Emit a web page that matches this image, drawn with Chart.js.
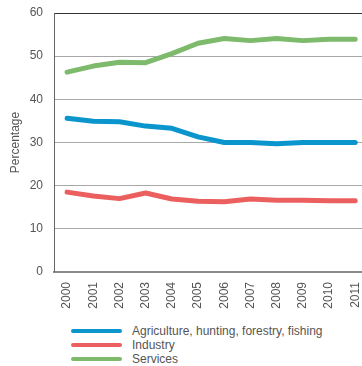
<!DOCTYPE html>
<html>
<head>
<meta charset="utf-8">
<script src="https://cdn.jsdelivr.net/npm/chart.js@4"></script>
<style>
  body { margin: 0; background: #fff; font-family: "Liberation Sans", Arial, sans-serif; }
  #wrap { position: relative; width: 362px; height: 318px; }
  #legend { position: absolute; left: 71px; top: 324px; font-size: 12px; color: #555; }
  .row { height: 14px; line-height: 14px; display: flex; align-items: center; }
  .sw { width: 51px; height: 4px; border-radius: 2px; margin-right: 10px; }
</style>
</head>
<body>
<div id="wrap"><canvas id="chart"></canvas></div>
<div id="legend"></div>
<script>
// share of employment by sector, 2000-2011
const years = ['2000','2001','2002','2003','2004','2005','2006','2007','2008','2009','2010','2011'];
const agriculture = [35.6, 34.9, 34.8, 33.8, 33.3, 31.3, 30.0, 30.0, 29.7, 30.0, 30.0, 30.0];
const industry = [18.5, 17.6, 17.0, 18.3, 16.9, 16.4, 16.3, 16.9, 16.6, 16.6, 16.5, 16.5];
const services = [46.3, 47.7, 48.6, 48.5, 50.6, 53.0, 54.1, 53.6, 54.1, 53.6, 53.9, 53.9];
const yTicks = [0, 10, 20, 30, 40, 50, 60];

const pts = arr => arr.map((v, i) => ({ x: i, y: v }));

const chart = new Chart(document.getElementById('chart'), {
  type: 'line',
  data: {
    datasets: [
      { label: 'Agriculture, hunting, forestry, fishing', data: pts(agriculture), borderColor: '#0a95cc' },
      { label: 'Industry', data: pts(industry), borderColor: '#ec5f5f' },
      { label: 'Services', data: pts(services), borderColor: '#7dba6c' }
    ]
  },
  options: {
    responsive: true,
    maintainAspectRatio: false,
    animation: false,
    layout: { padding: { left: 0, right: 0, top: 13, bottom: 0 } },
    elements: {
      line: { borderWidth: 5, tension: 0, borderCapStyle: 'round', borderJoinStyle: 'round' },
      point: { radius: 0 }
    },
    plugins: { legend: { display: false }, tooltip: { enabled: false } },
    scales: {
      x: {
        type: 'linear',
        min: -0.5,
        max: 11.26,
        afterBuildTicks: s => { s.ticks = years.map((_, i) => ({ value: i })); },
        afterFit: s => { s.height = 46; s.paddingLeft = 0; s.paddingRight = 0; },
        grid: { display: false, drawTicks: false },
        border: { color: '#8a8a8a', width: 2 },
        ticks: {
          callback: v => years[v],
          minRotation: 90, maxRotation: 90,
          padding: 10,
          color: '#555',
          font: { family: 'Liberation Sans', size: 12 }
        }
      },
      y: {
        min: 0, max: 60,
        afterBuildTicks: s => { s.ticks = yTicks.map(v => ({ value: v })); },
        afterFit: s => { s.width = 54; s.paddingTop = 0; s.paddingBottom = 0; },
        grid: {
          drawTicks: false,
          color: c => c.tick && c.tick.value === 60 ? '#333' : '#a8a8a8',
          lineWidth: c => c.tick && c.tick.value === 0 ? 0 : 1
        },
        border: { color: '#666', width: 1 },
        ticks: {
          padding: 11,
          color: '#555',
          font: { family: 'Liberation Sans', size: 12 }
        },
        title: {
          display: true,
          text: 'Percentage',
          color: '#555',
          padding: { top: 8, bottom: 0 },
          font: { family: 'Liberation Sans', size: 12 }
        }
      }
    }
  }
});

const legend = document.getElementById('legend');
chart.data.datasets.forEach(ds => {
  const row = document.createElement('div');
  row.className = 'row';
  const sw = document.createElement('span');
  sw.className = 'sw';
  sw.style.background = ds.borderColor;
  const t = document.createElement('span');
  t.textContent = ds.label;
  row.appendChild(sw);
  row.appendChild(t);
  legend.appendChild(row);
});
</script>
</body>
</html>
